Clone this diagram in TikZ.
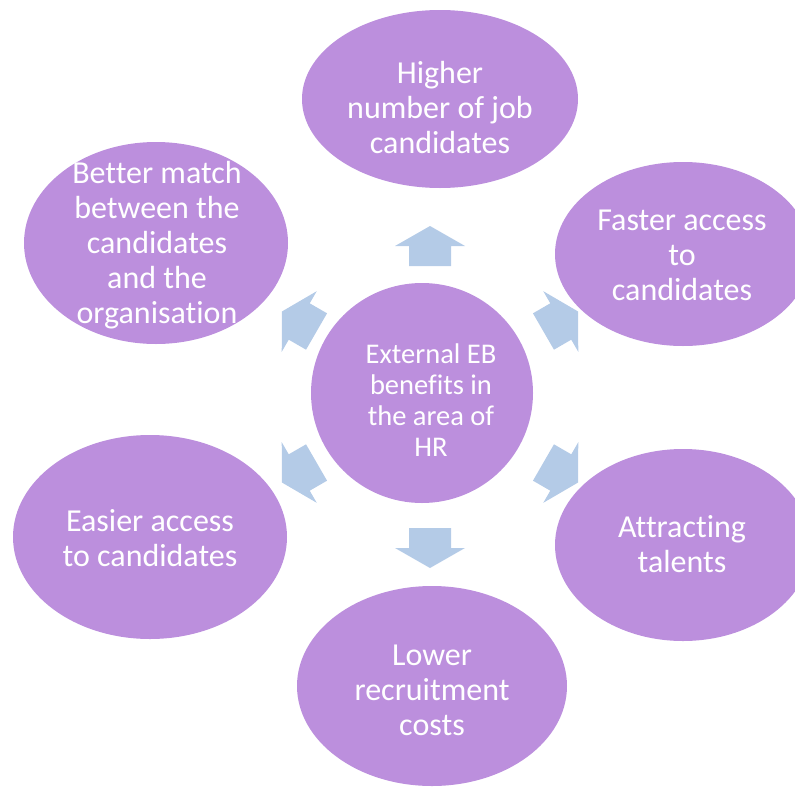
\documentclass[tikz,border=0pt]{standalone}
\usepackage{fontspec}
\setmainfont{Carlito}[Ligatures=NoCommon]
\usetikzlibrary{shapes.geometric}
\definecolor{blobpurple}{RGB}{188,143,221}
\definecolor{arrowblue}{RGB}{180,203,231}
\tikzset{
  blob/.style={ellipse, fill=blobpurple, draw=none, inner sep=0pt, outer sep=0pt},
  outtxt/.style={text=white, align=center, font=\fontsize{32}{35}\selectfont, inner sep=0pt},
  midtxt/.style={text=white, align=center, font=\fontsize{28.5}{31}\selectfont, inner sep=0pt},
  blockarrow/.style={fill=arrowblue, draw=none}
}
\begin{document}
\begin{tikzpicture}[x=1pt,y=-1pt]
\useasboundingbox (0,0) rectangle (795,787);
\clip (0,0) rectangle (795,787);
% ellipses
\node[blob, minimum width=276pt, minimum height=178pt] (top) at (440,99) {};
\node[blob, minimum width=256pt, minimum height=184pt] (ur) at (683,254) {};
\node[blob, minimum width=256pt, minimum height=192pt] (lr) at (683,545) {};
\node[blob, minimum width=270pt, minimum height=200pt] (bot) at (432,686) {};
\node[blob, minimum width=274pt, minimum height=204pt] (ll) at (150,537) {};
\node[blob, minimum width=264pt, minimum height=202pt] (ul) at (156,243) {};
\node[blob, minimum width=222pt, minimum height=220pt] (mid) at (422,393) {};
% texts
\node[outtxt] (ttop) at (440,108) {Higher\\number of job\\candidates};
\node[outtxt] (tur) at (682,255) {Faster access\\to\\candidates};
\node[outtxt] (tlr) at (682,544) {Attracting\\talents};
\node[outtxt] (tbot) at (432,690) {Lower\\recruitment\\costs};
\node[outtxt] (tll) at (150,538) {Easier access\\to candidates};
\node[outtxt] (tul) at (157,245) {Better match\\between the\\candidates\\and the\\organisation};
\node[midtxt] (tmid) at (431,400) {External EB\\benefits in\\the area of\\HR};
% diverging arrows
\begin{scope}[shift={(430,397)}]
\foreach \a in {90,30,-30,-90,-150,150}{
  \fill[blockarrow, rotate=\a, xshift=151pt]
    (-20pt,-21pt) -- (0pt,-21pt) -- (0pt,-35pt) -- (20pt,0pt) -- (0pt,35pt) -- (0pt,21pt) -- (-20pt,21pt) -- cycle;
}
\end{scope}
\end{tikzpicture}
\end{document}
